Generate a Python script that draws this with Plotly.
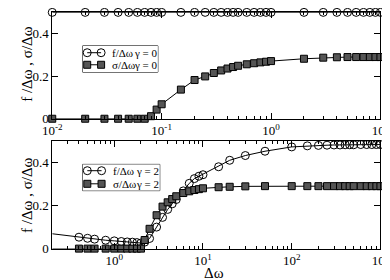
import plotly.graph_objects as go

# ---------------- data ----------------
x_top = [0.01, 0.02, 0.03, 0.04, 0.05, 0.06, 0.07, 0.08, 0.09, 0.1, 0.15, 0.2, 0.25,
         0.3, 0.35, 0.4, 0.45, 0.5, 0.6, 0.7, 0.8, 0.9, 1, 2, 3, 4, 5, 6, 7, 8, 9, 10]
f_top = [0.5, 0.5, 0.5, 0.5, 0.5, 0.5, 0.5, 0.5, 0.5, 0.5, 0.5, 0.5, 0.5, 0.5, 0.5, 0.5,
         0.5, 0.5, 0.5, 0.5, 0.5, 0.5, 0.5, 0.5, 0.5, 0.5, 0.5, 0.5, 0.5, 0.5, 0.5, 0.5]
s_top = [0, 0, 0, 0, 0, 0, 0, 0.012, 0.043, 0.068, 0.137, 0.182, 0.199, 0.215, 0.227,
         0.236, 0.243, 0.249, 0.256, 0.261, 0.265, 0.268, 0.271, 0.282, 0.287, 0.289,
         0.29, 0.29, 0.29, 0.29, 0.29, 0.29]

x_bot = [0.2, 0.4, 0.5, 0.6, 0.8, 1.0, 1.2, 1.4, 1.6, 1.8, 2.0, 2.2, 2.5, 3, 3.5, 4, 4.5,
         5, 6, 7, 8, 9, 10, 15, 20, 30, 50, 100, 150, 200, 250, 300, 350, 400, 450, 500,
         600, 700, 800, 900, 1000]
f_bot = [0.069, 0.053, 0.048, 0.044, 0.039, 0.036, 0.033, 0.031, 0.030, 0.028, 0.026,
         0.030, 0.047, 0.100, 0.145, 0.182, 0.208, 0.228, 0.268, 0.303, 0.325, 0.336,
         0.343, 0.380, 0.410, 0.432, 0.452, 0.472, 0.477, 0.479, 0.480, 0.481, 0.481,
         0.482, 0.482, 0.482, 0.483, 0.483, 0.483, 0.483, 0.483]
s_bot = [0, 0, 0, 0, 0, 0, 0, 0, 0, 0, 0, 0.040, 0.092, 0.155, 0.195, 0.215, 0.230,
         0.243, 0.258, 0.266, 0.272, 0.276, 0.280, 0.285, 0.287, 0.289, 0.290, 0.290,
         0.290, 0.290, 0.290, 0.290, 0.290, 0.290, 0.290, 0.290, 0.290, 0.290, 0.290,
         0.290, 0.290]

top_xticks = [0.01, 0.1, 1, 10]
top_xtext = ["10<sup>-2</sup>", "10<sup>-1</sup>", "10<sup>0</sup>", "10<sup>1</sup>"]
bot_xticks = [1, 10, 100, 1000]
bot_xtext = ["10<sup>0</sup>", "10<sup>1</sup>", "10<sup>2</sup>", "10<sup>3</sup>"]
yticks = [0, 0.2, 0.4]
ytext = ["0", "0.2", "0.4"]

legend_top = ["f/Δω", "σ/Δω", "γ = 0"]
legend_bot = ["f/Δω", "σ/Δω", "γ = 2"]
ytitle = "f /Δω , σ/Δω"
xtitle = "Δω"

# ---------------- style ----------------
FONT = "Liberation Serif, Times New Roman, Times, serif"
circ = dict(symbol="circle-open", size=8, color="black", line=dict(width=1, color="black"))
sq = dict(symbol="square", size=7, color="#555555", line=dict(width=1, color="black"))
ln = dict(color="black", width=1)

fig = go.Figure()

def add(x, y, xa, ya, marker):
    fig.add_trace(go.Scatter(x=x, y=y, mode="lines+markers", marker=marker, line=ln,
                             xaxis=xa, yaxis=ya, cliponaxis=False, showlegend=False,
                             hoverinfo="skip"))

add(x_top, f_top, "x", "y", circ)
add(x_top, s_top, "x", "y", sq)
add(x_bot, f_bot, "x2", "y2", circ)
add(x_bot, s_bot, "x2", "y2", sq)

# legend samples on helper axes
add([0.06, 0.245], [0.74, 0.74], "x3", "y3", circ)
add([0.06, 0.245], [0.28, 0.28], "x3", "y3", sq)
add([0.06, 0.245], [0.76, 0.76], "x4", "y4", circ)
add([0.06, 0.245], [0.26, 0.26], "x4", "y4", sq)

XD = [36 / 390, 381 / 390]
top_dom = [(280 - 114) / 280, (280 - 4.5) / 280]
bot_dom = [(280 - 247.7) / 280, (280 - 136.8) / 280]
leg_top_x = [68 / 390, 147 / 390]
leg_top_y = [(280 - 66) / 280, (280 - 39) / 280]
leg_bot_x = [68 / 390, 149 / 390]
leg_bot_y = [(280 - 188) / 280, (280 - 161) / 280]

tickfont = dict(family=FONT, size=13, color="black")
minor = dict(ticks="inside", ticklen=3, tickcolor="black", dtick="D1", showgrid=False)
common_x = dict(type="log", showline=True, linecolor="black", linewidth=1, mirror="allticks",
                ticks="inside", ticklen=6, tickcolor="black", showgrid=False, zeroline=False,
                tickfont=tickfont, minor=minor)
mirror_x = dict(type="log", showline=False, ticks="inside", ticklen=6, tickcolor="black",
                showgrid=False, zeroline=False, showticklabels=False, side="top", minor=minor)
common_y = dict(range=[0, 0.5], showline=True, linecolor="black", linewidth=1, mirror="allticks",
                ticks="inside", ticklen=6, tickcolor="black", showgrid=False, zeroline=False,
                tickvals=yticks, ticktext=ytext, tickfont=tickfont)
hidden = dict(range=[0, 1], visible=False, fixedrange=True)

fig.update_layout(
    width=390, height=280, margin=dict(l=0, r=0, t=0, b=0),
    paper_bgcolor="white", plot_bgcolor="white", showlegend=False,
    xaxis=dict(common_x, domain=XD, range=[-2, 1], tickvals=top_xticks, ticktext=top_xtext,
               anchor="y"),
    yaxis=dict(common_y, domain=top_dom, anchor="x"),
    xaxis2=dict(common_x, domain=XD, range=[-0.69897, 3], tickvals=bot_xticks,
                ticktext=bot_xtext, anchor="y2"),
    yaxis2=dict(common_y, domain=bot_dom, anchor="x2"),
    xaxis3=dict(hidden, domain=leg_top_x, anchor="y3"),
    yaxis3=dict(hidden, domain=leg_top_y, anchor="x3"),
    xaxis4=dict(hidden, domain=leg_bot_x, anchor="y4"),
    yaxis4=dict(hidden, domain=leg_bot_y, anchor="x4"),
    xaxis5=dict(mirror_x, range=[-2, 1], tickvals=top_xticks, overlaying="x", anchor="y"),
    xaxis6=dict(mirror_x, range=[-0.69897, 3], tickvals=bot_xticks, overlaying="x2",
                anchor="y2"),
)

for (xd, yd) in [(leg_top_x, leg_top_y), (leg_bot_x, leg_bot_y)]:
    fig.add_shape(type="rect", xref="paper", yref="paper", x0=xd[0], x1=xd[1], y0=yd[0],
                  y1=yd[1], line=dict(color="black", width=1), fillcolor="white", layer="below")

lf = dict(family=FONT, size=11, color="black")
for xa, ya, labels, rows in [("x3", "y3", legend_top, (0.74, 0.28)),
                             ("x4", "y4", legend_bot, (0.76, 0.26))]:
    for i, r in enumerate(rows):
        fig.add_annotation(x=0.37, y=r, xref=xa, yref=ya, text=labels[i], showarrow=False,
                           xanchor="left", yanchor="middle", font=lf)
        fig.add_annotation(x=0.66, y=r, xref=xa, yref=ya, text=labels[2], showarrow=False,
                           xanchor="left", yanchor="middle", font=lf)

tf = dict(family=FONT, size=15, color="black")
for yc in (58, 193):
    fig.add_annotation(x=10 / 390, y=1 - yc / 280, xref="paper", yref="paper", text=ytitle,
                       textangle=-90, showarrow=False, font=tf, xanchor="center",
                       yanchor="middle")
fig.add_annotation(x=206 / 390, y=1 - 273 / 280, xref="paper", yref="paper", text=xtitle,
                   showarrow=False, font=tf, xanchor="center", yanchor="middle")

fig.write_html("out.html")
